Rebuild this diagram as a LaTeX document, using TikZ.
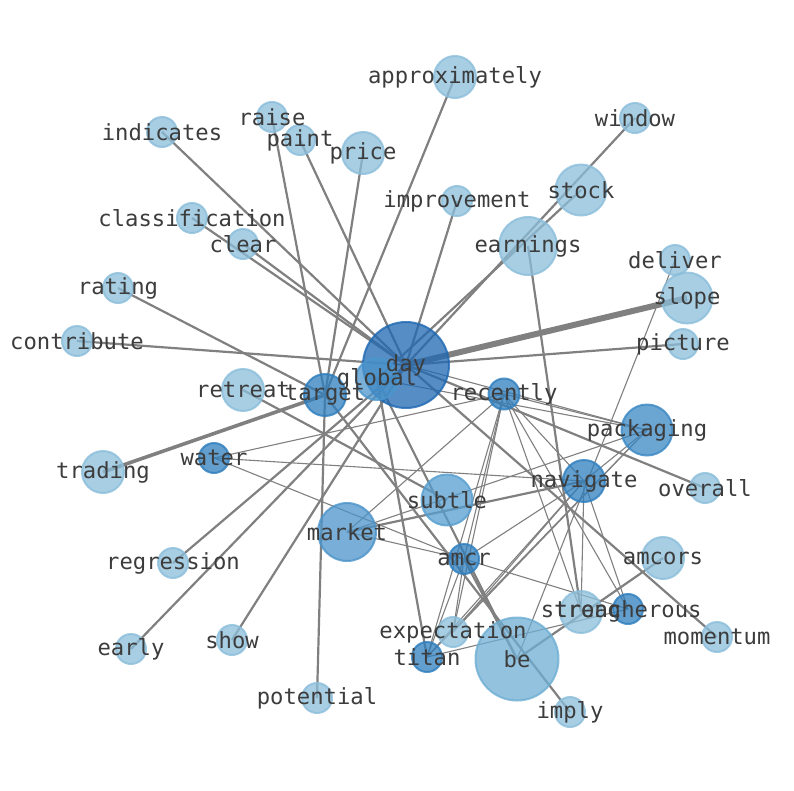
\documentclass[tikz,border=0pt]{standalone}
\usepackage{fontspec}
\newfontfamily\lblfont{DejaVu Sans Mono}
\pgfdeclarelayer{bg}
\pgfdeclarelayer{fg}
\pgfsetlayers{bg,main,fg}
\definecolor{edgegray}{RGB}{128,128,128}
\definecolor{lblcol}{RGB}{60,60,60}
\definecolor{cLight}{RGB}{139,190,219}
\definecolor{cBe}{RGB}{110,174,211}
\definecolor{cSubtle}{RGB}{86,158,207}
\definecolor{cMarket}{RGB}{75,148,202}
\definecolor{cGlobal}{RGB}{75,150,205}
\definecolor{cPack}{RGB}{58,136,196}
\definecolor{cMid}{RGB}{46,126,190}
\definecolor{cDay}{RGB}{30,104,178}
\tikzset{
  ed/.style={draw=edgegray, line width=2.2pt},
  edthin/.style={draw=edgegray, line width=1.1pt},
  vtx/.style={circle, inner sep=0pt, line width=2pt, fill opacity=0.75, draw opacity=0.8},
  lbl/.style={font={\lblfont\fontsize{22.2}{26}\selectfont}, text=lblcol, inner sep=0pt},
}
\begin{document}
\begin{tikzpicture}[x=1pt,y=-1pt]
\useasboundingbox (0,0) rectangle (794,790);
\begin{pgfonlayer}{bg}
\fill[white] (0,0) rectangle (794,790);
\end{pgfonlayer}
% nodes
\node[vtx, fill=cLight, draw=cLight, minimum size=42pt] (approximately) at (455,77) {};
\node[vtx, fill=cLight, draw=cLight, minimum size=30pt] (window) at (635,118) {};
\node[vtx, fill=cLight, draw=cLight, minimum size=30pt] (raise) at (272,117) {};
\node[vtx, fill=cLight, draw=cLight, minimum size=30pt] (indicates) at (162,132) {};
\node[vtx, fill=cLight, draw=cLight, minimum size=30pt] (paint) at (300,140) {};
\node[vtx, fill=cLight, draw=cLight, minimum size=42pt] (price) at (363,153) {};
\node[vtx, fill=cLight, draw=cLight, minimum size=30pt] (improvement) at (457,201) {};
\node[vtx, fill=cLight, draw=cLight, minimum size=51pt] (stock) at (581,190) {};
\node[vtx, fill=cLight, draw=cLight, minimum size=30pt] (classification) at (192,218) {};
\node[vtx, fill=cLight, draw=cLight, minimum size=30pt] (clear) at (243,244) {};
\node[vtx, fill=cLight, draw=cLight, minimum size=58pt] (earnings) at (528,246) {};
\node[vtx, fill=cLight, draw=cLight, minimum size=30pt] (deliver) at (675,260) {};
\node[vtx, fill=cLight, draw=cLight, minimum size=51pt] (slope) at (687,298) {};
\node[vtx, fill=cLight, draw=cLight, minimum size=30pt] (rating) at (118,288) {};
\node[vtx, fill=cLight, draw=cLight, minimum size=30pt] (contribute) at (77,341) {};
\node[vtx, fill=cLight, draw=cLight, minimum size=30pt] (picture) at (683,344) {};
\node[vtx, fill=cLight, draw=cLight, minimum size=42pt] (retreat) at (243,390) {};
\node[vtx, fill=cLight, draw=cLight, minimum size=42pt] (trading) at (103,472) {};
\node[vtx, fill=cMid, draw=cMid, minimum size=30pt] (water) at (214,458) {};
\node[vtx, fill=cMid, draw=cMid, minimum size=42pt] (target) at (325,395) {};
\node[vtx, fill=cDay, draw=cDay, minimum size=86pt] (day) at (406,365) {};
\node[vtx, fill=cGlobal, draw=cGlobal, minimum size=42pt] (global) at (377,379) {};
\node[vtx, fill=cMid, draw=cMid, minimum size=31pt] (recently) at (504,394) {};
\node[vtx, fill=cPack, draw=cPack, minimum size=51pt] (packaging) at (647,430) {};
\node[vtx, fill=cMid, draw=cMid, minimum size=42pt] (navigate) at (584,481) {};
\node[vtx, fill=cLight, draw=cLight, minimum size=30pt] (overall) at (705,488) {};
\node[vtx, fill=cSubtle, draw=cSubtle, minimum size=51pt] (subtle) at (447,500) {};
\node[vtx, fill=cMarket, draw=cMarket, minimum size=58pt] (market) at (347,532) {};
\node[vtx, fill=cLight, draw=cLight, minimum size=30pt] (regression) at (173,563) {};
\node[vtx, fill=cLight, draw=cLight, minimum size=42pt] (amcors) at (663,558) {};
\node[vtx, fill=cMid, draw=cMid, minimum size=30pt] (amcr) at (464,559) {};
\node[vtx, fill=cLight, draw=cLight, minimum size=42pt] (strong) at (581,612) {};
\node[vtx, fill=cMid, draw=cMid, minimum size=30pt] (treacherous) at (628,609) {};
\node[vtx, fill=cLight, draw=cLight, minimum size=30pt] (expectation) at (453,632) {};
\node[vtx, fill=cLight, draw=cLight, minimum size=30pt] (momentum) at (717,637) {};
\node[vtx, fill=cLight, draw=cLight, minimum size=30pt] (early) at (131,649) {};
\node[vtx, fill=cLight, draw=cLight, minimum size=30pt] (show) at (232,640) {};
\node[vtx, fill=cMid, draw=cMid, minimum size=30pt] (titan) at (427,657) {};
\node[vtx, fill=cBe, draw=cBe, minimum size=83pt] (be) at (517,659) {};
\node[vtx, fill=cLight, draw=cLight, minimum size=30pt] (potential) at (317,698) {};
\node[vtx, fill=cLight, draw=cLight, minimum size=30pt] (imply) at (570,712) {};
% edges
\begin{pgfonlayer}{bg}
\foreach \a/\b in {day/indicates, day/classification, day/clear, day/paint, day/contribute, day/improvement, day/window, global/stock, day/picture, day/momentum, day/overall, global/be, target/raise, target/price, target/approximately, target/rating, target/potential, target/imply, day/early, day/regression, day/show, earnings/strong, be/amcors, market/navigate, amcr/be, global/titan, retreat/subtle}
  \draw[ed] (\a.center) -- (\b.center);
\foreach \a/\b in {water/recently, water/navigate, water/amcr, market/recently, market/packaging, market/amcr, recently/amcr, recently/titan, recently/expectation, recently/packaging, recently/navigate, recently/treacherous, recently/strong, navigate/titan, navigate/expectation, navigate/amcr, navigate/packaging, navigate/strong, navigate/treacherous, packaging/titan, packaging/expectation, amcr/treacherous, amcr/titan, amcr/expectation, titan/treacherous, day/packaging, global/packaging, deliver/be}
  \draw[edthin] (\a.center) -- (\b.center);
\draw[draw=edgegray, line width=6pt] (day.center) -- (slope.center);
\draw[draw=edgegray, line width=3.6pt] (trading.center) -- (target.center);
\end{pgfonlayer}
% labels
\begin{pgfonlayer}{fg}
\foreach \n in {approximately, window, raise, indicates, paint, price, improvement, stock, classification, clear, earnings, deliver, slope, rating, contribute, picture, retreat, trading, water, target, day, global, recently, packaging, navigate, overall, subtle, market, regression, amcors, amcr, strong, treacherous, expectation, momentum, early, show, titan, be, potential, imply}
  \node[lbl] (\n-l) at (\n.center) {\n};
\end{pgfonlayer}
\end{tikzpicture}
\end{document}
